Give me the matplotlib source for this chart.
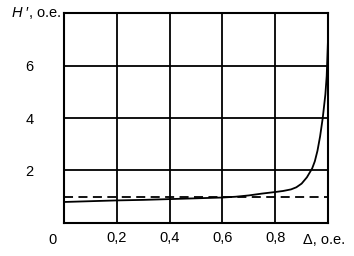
import matplotlib
matplotlib.use("Agg")
import matplotlib.pyplot as plt

plt.rcParams['font.family'] = ['Liberation Sans', 'DejaVu Sans']
plt.rcParams['mathtext.fontset'] = 'custom'
plt.rcParams['mathtext.rm'] = 'Liberation Sans'
plt.rcParams['mathtext.it'] = 'Liberation Sans:italic'

delta = [0.0, 0.1, 0.2, 0.3, 0.4, 0.5, 0.6, 0.65, 0.7, 0.75, 0.8, 0.83, 0.86, 0.88, 0.9, 0.92, 0.94, 0.95, 0.96, 0.97, 0.98, 0.99, 0.995, 1.0]
h_val = [0.80, 0.83, 0.86, 0.88, 0.91, 0.94, 0.97, 1.00, 1.05, 1.12, 1.18, 1.22, 1.28, 1.36, 1.50, 1.74, 2.08, 2.35, 2.75, 3.30, 4.00, 4.90, 5.60, 7.00]
ref_level = 1.0

xticks = [0.0, 0.2, 0.4, 0.6, 0.8, 1.0]
xlabels = ['', '0,2', '0,4', '0,6', '0,8', '']
yticks = [0, 2, 4, 6, 8]
ylabels = ['', '2', '4', '6', '']

fs = 10.5
fig = plt.figure(figsize=(3.54, 2.56), dpi=100)
ax = fig.add_axes([0.1808, 0.129, 0.7458, 0.820])
ax.plot(delta, h_val, color='black', lw=1.3)
ax.axhline(ref_level, color='black', lw=1.3, ls=(0, (5, 3)))
ax.set_xlim(0, 1.0)
ax.set_ylim(0, 8)
ax.set_xticks(xticks)
ax.set_xticklabels(xlabels, fontsize=fs)
ax.set_yticks(yticks)
ax.set_yticklabels(ylabels, fontsize=fs)
ax.tick_params(length=0)
ax.tick_params(axis='y', pad=22)
ax.tick_params(axis='x', pad=6)
ax.grid(True, color='black', lw=1.3)
for s in ax.spines.values():
    s.set_linewidth(1.5)
ax.text(-0.045, -0.05, '0', transform=ax.transAxes, ha='center', va='top', fontsize=fs)
ax.text(0.985, -0.05, 'Δ, o.e.', transform=ax.transAxes, ha='center', va='top', fontsize=fs)
ax.text(-0.01, 1.0, "$H$ \u2032, o.e.", transform=ax.transAxes, ha='right', va='center', fontsize=fs)
fig.savefig('out.png', dpi=100)
